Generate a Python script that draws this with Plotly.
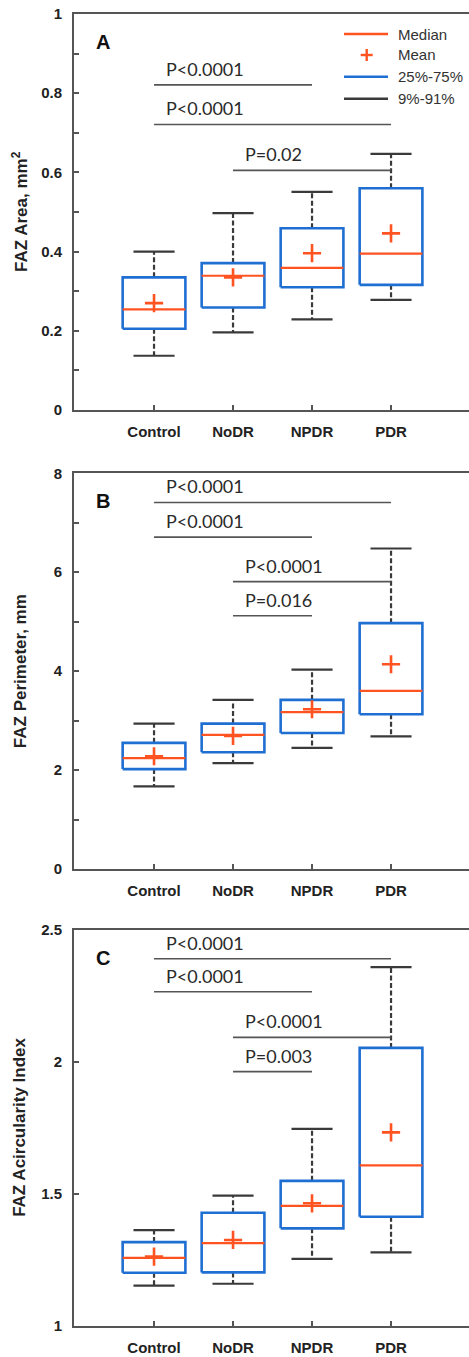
import plotly.graph_objects as go

# ---------------- data ----------------
groups = ["Control", "NoDR", "NPDR", "PDR"]

# FAZ area (mm^2): 9th, 25th, 50th, 75th, 91st percentiles and mean
area_p9 = [0.137, 0.196, 0.229, 0.278]
area_q1 = [0.205, 0.259, 0.310, 0.316]
area_median = [0.254, 0.339, 0.359, 0.395]
area_mean = [0.270, 0.335, 0.396, 0.446]
area_q3 = [0.335, 0.371, 0.459, 0.560]
area_p91 = [0.400, 0.497, 0.551, 0.647]

# FAZ perimeter (mm)
perim_p9 = [1.67, 2.14, 2.45, 2.68]
perim_q1 = [2.02, 2.36, 2.75, 3.13]
perim_median = [2.24, 2.71, 3.17, 3.60]
perim_mean = [2.28, 2.69, 3.23, 4.14]
perim_q3 = [2.55, 2.94, 3.42, 4.97]
perim_p91 = [2.94, 3.42, 4.03, 6.48]

# FAZ acircularity index
aci_p9 = [1.152, 1.159, 1.253, 1.278]
aci_q1 = [1.201, 1.202, 1.369, 1.413]
aci_median = [1.257, 1.313, 1.454, 1.608]
aci_mean = [1.262, 1.325, 1.464, 1.733]
aci_q3 = [1.317, 1.428, 1.549, 2.053]
aci_p91 = [1.362, 1.493, 1.746, 2.359]

# pairwise comparisons: (group from, group to, bar height, label)
area_sig_from = [0, 0, 1]
area_sig_to = [2, 3, 3]
area_sig_y = [0.821, 0.721, 0.605]
area_sig_text = ["P<0.0001", "P<0.0001", "P=0.02"]

perim_sig_from = [0, 0, 1, 1]
perim_sig_to = [3, 2, 3, 2]
perim_sig_y = [7.41, 6.71, 5.81, 5.12]
perim_sig_text = ["P<0.0001", "P<0.0001", "P<0.0001", "P=0.016"]

aci_sig_from = [0, 0, 1, 1]
aci_sig_to = [3, 2, 3, 2]
aci_sig_y = [2.391, 2.266, 2.093, 1.963]
aci_sig_text = ["P<0.0001", "P<0.0001", "P<0.0001", "P=0.003"]

area_ticks = [0, 0.2, 0.4, 0.6, 0.8, 1]
area_ticklabels = ["0", "0.2", "0.4", "0.6", "0.8", "1"]
perim_ticks = [0, 2, 4, 6, 8]
perim_ticklabels = ["0", "2", "4", "6", "8"]
aci_ticks = [1, 1.5, 2, 2.5]
aci_ticklabels = ["1", "1.5", "2", "2.5"]

# ---------------- style ----------------
BLUE = "#1f6fd3"
ORANGE = "#ff5322"
DARK = "#3a3a3a"
AXIS = "#555555"
SIGC = "#555555"
TXT = "#222222"
SANS = "Liberation Sans, Arial, sans-serif"
PFONT = "Lato, Liberation Sans, sans-serif"
BOX_HALF = 0.397
CAP_HALF = 0.26

W, H = 469, 1357
X_LEFT = 74 / W
# vertical pixel extents (top, bottom) of each panel's plotting area
panel_px = [(14, 410), (473.3, 869), (930, 1325.7)]

fig = go.Figure()


def add_panel(k, p9, q1, med, mean, q3, p91, sfrom, sto, sy, stext):
    xa = "x" if k == 1 else f"x{k}"
    ya = "y" if k == 1 else f"y{k}"
    bx, by, wx, wy, cx, cy, mx, my = [], [], [], [], [], [], [], []
    for i in range(len(groups)):
        l, r = i - BOX_HALF, i + BOX_HALF
        bx += [l, r, r, l, l, None]
        by += [q1[i], q1[i], q3[i], q3[i], q1[i], None]
        wx += [i, i, None, i, i, None]
        wy += [q3[i], p91[i], None, q1[i], p9[i], None]
        cx += [i - CAP_HALF, i + CAP_HALF, None, i - CAP_HALF, i + CAP_HALF, None]
        cy += [p91[i], p91[i], None, p9[i], p9[i], None]
        mx += [l, r, None]
        my += [med[i], med[i], None]
    # dashed whiskers
    fig.add_trace(go.Scatter(x=wx, y=wy, mode="lines", xaxis=xa, yaxis=ya,
                             line=dict(color=DARK, width=2.2, dash="5px,2.5px"),
                             showlegend=False, hoverinfo="skip"))
    # whisker caps
    fig.add_trace(go.Scatter(x=cx, y=cy, mode="lines", xaxis=xa, yaxis=ya,
                             line=dict(color=DARK, width=2.2),
                             showlegend=False, hoverinfo="skip"))
    # interquartile boxes
    fig.add_trace(go.Scatter(x=bx, y=by, mode="lines", xaxis=xa, yaxis=ya,
                             line=dict(color=BLUE, width=2.6),
                             showlegend=False, hoverinfo="skip"))
    # medians
    fig.add_trace(go.Scatter(x=mx, y=my, mode="lines", xaxis=xa, yaxis=ya,
                             line=dict(color=ORANGE, width=2.2),
                             showlegend=False, hoverinfo="skip"))
    # means
    fig.add_trace(go.Scatter(x=list(range(len(groups))), y=mean, mode="markers",
                             xaxis=xa, yaxis=ya,
                             marker=dict(symbol="cross-thin", size=13, color=ORANGE,
                                         line=dict(color=ORANGE, width=2.6)),
                             showlegend=False, hoverinfo="skip"))
    # significance bars
    sx, syy = [], []
    for a, b, yv in zip(sfrom, sto, sy):
        sx += [a, b, None]
        syy += [yv, yv, None]
    fig.add_trace(go.Scatter(x=sx, y=syy, mode="lines", xaxis=xa, yaxis=ya,
                             line=dict(color=SIGC, width=1.6),
                             showlegend=False, hoverinfo="skip"))
    for a, yv, t in zip(sfrom, sy, stext):
        fig.add_annotation(x=a, y=yv, xref=xa, yref=ya, text=t, showarrow=False,
                           xanchor="left", yanchor="middle", xshift=10, yshift=16,
                           font=dict(family=PFONT, size=18, color="#2a2a2a"))


add_panel(1, area_p9, area_q1, area_median, area_mean, area_q3, area_p91,
          area_sig_from, area_sig_to, area_sig_y, area_sig_text)
add_panel(2, perim_p9, perim_q1, perim_median, perim_mean, perim_q3, perim_p91,
          perim_sig_from, perim_sig_to, perim_sig_y, perim_sig_text)
add_panel(3, aci_p9, aci_q1, aci_median, aci_mean, aci_q3, aci_p91,
          aci_sig_from, aci_sig_to, aci_sig_y, aci_sig_text)

axis_common = dict(showgrid=False, zeroline=False, showline=True, linecolor=AXIS,
                   linewidth=2, ticks="inside", ticklen=5, tickwidth=1.5,
                   tickcolor=AXIS, automargin=False,
                   tickfont=dict(family=SANS, size=15, color=TXT, weight="bold"))

y_specs = [
    (area_ticks, area_ticklabels, [0, 1], 0.1),
    (perim_ticks, perim_ticklabels, [0, 8], 1),
    (aci_ticks, aci_ticklabels, [1, 2.5], None),
]
titles = ["FAZ Area, mm<sup>2</sup>", "FAZ Perimeter, mm", "FAZ Acircularity Index"]
letters = ["A", "B", "C"]

layout = {}
for k, ((tv, tt, rng, minor), (top, bot)) in enumerate(zip(y_specs, panel_px), start=1):
    sfx = "" if k == 1 else str(k)
    dom = [1 - bot / H, 1 - top / H]
    layout["xaxis" + sfx] = dict(axis_common, domain=[X_LEFT, 1], range=[-1.013, 3.987],
                                 tickmode="array", tickvals=list(range(len(groups))),
                                 ticktext=groups, mirror=True, ticklabelstandoff=7,
                                 anchor="y" + sfx)
    ya = dict(axis_common, domain=dom, range=rng, tickmode="array", tickvals=tv,
              ticktext=tt, anchor="x" + sfx, ticklabelstandoff=7)
    if minor is not None:
        ya["minor"] = dict(tickmode="linear", tick0=rng[0], dtick=minor, ticks="inside",
                           ticklen=5, tickwidth=1.5, tickcolor=AXIS)
    layout["yaxis" + sfx] = ya
    fig.add_annotation(x=20 / W, y=1 - (top + bot) / 2 / H, xref="paper", yref="paper",
                       text=titles[k - 1], textangle=-90, showarrow=False,
                       xanchor="center", yanchor="middle",
                       font=dict(family=SANS, size=17, color=TXT, weight="bold"))
    fig.add_annotation(x=0.074, y=0.93, xref="x" + sfx + " domain",
                       yref="y" + sfx + " domain", text=letters[k - 1], showarrow=False,
                       xanchor="center", yanchor="middle",
                       font=dict(family=SANS, size=20, color="#111111", weight="bold"))

# key for panel A
key_items = [("Median", "line", ORANGE), ("Mean", "plus", ORANGE),
             ("25%-75%", "line", BLUE), ("9%-91%", "line", DARK)]
key_rows = [34, 55, 76.7, 98.7]
for (label, kind, col), py in zip(key_items, key_rows):
    yp = 1 - py / H
    if kind == "line":
        fig.add_shape(type="line", xref="paper", yref="paper", x0=344 / W, x1=388 / W,
                      y0=yp, y1=yp, line=dict(color=col, width=2.4))
    else:
        cxp, half = 366.7 / W, 6 / W
        fig.add_shape(type="line", xref="paper", yref="paper", x0=cxp - half,
                      x1=cxp + half, y0=yp, y1=yp, line=dict(color=col, width=2.4))
        fig.add_shape(type="line", xref="paper", yref="paper", x0=cxp, x1=cxp,
                      y0=yp - 6 / H, y1=yp + 6 / H, line=dict(color=col, width=2.4))
    fig.add_annotation(x=396 / W, y=yp, xref="paper", yref="paper", text=label,
                       showarrow=False, xanchor="left", yanchor="middle",
                       font=dict(family=SANS, size=15, color="#333333"))

fig.update_layout(width=W, height=H, margin=dict(l=0, r=0, t=0, b=0),
                  paper_bgcolor="white", plot_bgcolor="white", showlegend=False,
                  **layout)

fig.write_html("out.html")
